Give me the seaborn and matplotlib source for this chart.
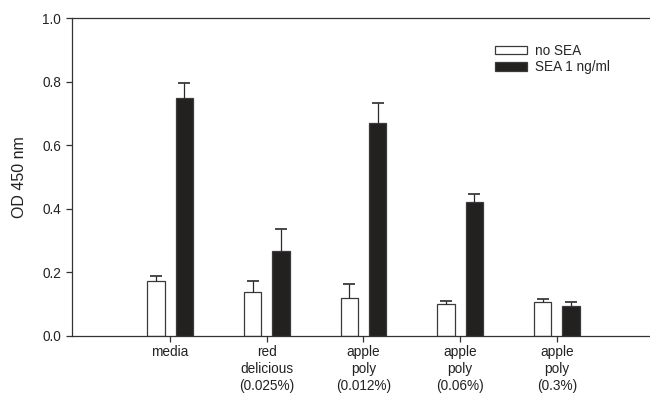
import numpy as np
import pandas as pd
import matplotlib
matplotlib.use("Agg")
import matplotlib.pyplot as plt
import seaborn as sns

# values
categories = ["media", "red\ndelicious\n(0.025%)", "apple\npoly\n(0.012%)",
              "apple\npoly\n(0.06%)", "apple\npoly\n(0.3%)"]
groups = ["no SEA", "SEA 1 ng/ml"]
no_sea = [0.171, 0.136, 0.119, 0.099, 0.106]
no_sea_err = [0.016, 0.037, 0.042, 0.009, 0.008]
sea = [0.747, 0.268, 0.671, 0.420, 0.093]
sea_err = [0.050, 0.068, 0.063, 0.027, 0.012]

df = pd.DataFrame({
    "cond": categories * 2,
    "group": [groups[0]] * 5 + [groups[1]] * 5,
    "od": no_sea + sea,
})

sns.set_style("ticks")
plt.rcParams["font.family"] = ["Liberation Sans", "DejaVu Sans"]

fig = plt.figure(figsize=(6.5, 3.93), dpi=100)
ax = fig.add_axes([0.111, 0.146, 0.887, 0.808])

sns.barplot(data=df, x="cond", y="od", hue="group", order=categories,
            hue_order=groups, palette=["white", "#231f20"], width=0.59,
            gap=0.39, edgecolor="#3a3a3a", linewidth=0.9, errorbar=None,
            ax=ax)

# one-sided (upper) error bars, positioned from the bar patches
errs = no_sea_err + sea_err
for patch, err in zip(ax.patches[:10], errs):
    cx = patch.get_x() + patch.get_width() / 2
    top = patch.get_height()
    ax.vlines(cx, top, top + err, color="#2a2a2a", lw=0.9, zorder=3)
    ax.hlines(top + err, cx - 0.062, cx + 0.062, color="#2a2a2a", lw=1.2,
              zorder=3)

ax.set_xlim(-1.013, 4.95)
ax.set_ylim(0, 1.0)
ax.set_yticks(np.arange(0, 1.01, 0.2))
ax.set_yticklabels([f"{v:.1f}" for v in np.arange(0, 1.01, 0.2)], fontsize=9.8,
                   color="#222222")
ax.set_xticks(range(len(categories)))
ax.set_xticklabels(categories, fontsize=9.8, color="#222222", linespacing=1.3)
ax.set_xlabel("")
ax.set_ylabel("OD 450 nm", fontsize=11.5, color="#222222", labelpad=11)

for s in ["left", "bottom", "top"]:
    ax.spines[s].set_color("#333333")
    ax.spines[s].set_linewidth(0.9)
ax.spines["right"].set_visible(False)
ax.tick_params(axis="both", color="#333333", width=0.9, length=4)
ax.tick_params(axis="x", pad=2.5)
ax.tick_params(axis="y", pad=4)

leg = ax.legend(loc="upper left", bbox_to_anchor=(0.721, 0.94), frameon=False,
                fontsize=9.8, handlelength=2.4, handleheight=0.6,
                handletextpad=0.6, labelspacing=0.15, borderpad=0)

fig.savefig("out.png", dpi=100)
